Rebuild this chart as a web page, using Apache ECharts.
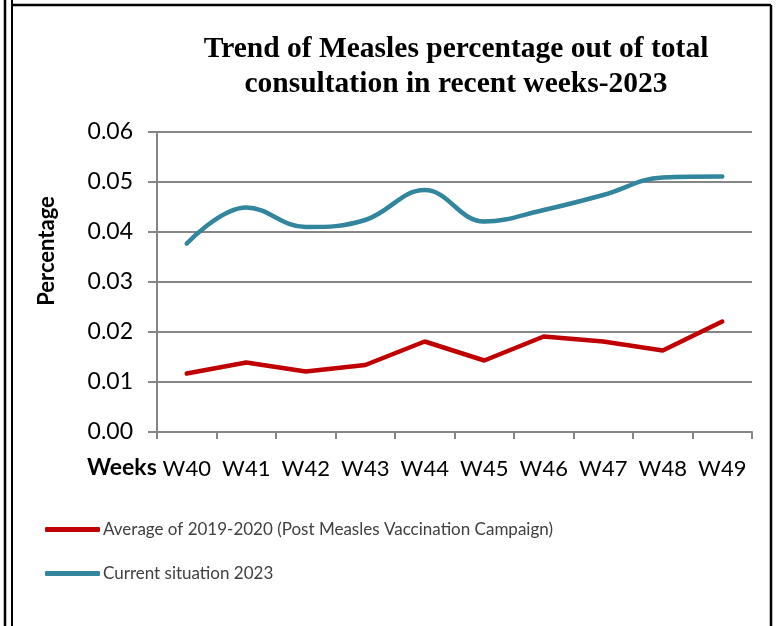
<!DOCTYPE html>
<html>
<head>
<meta charset="utf-8">
<script src="https://cdn.jsdelivr.net/npm/echarts@6/dist/echarts.min.js"></script>
<style>
  html, body { margin: 0; padding: 0; background: #fff; }
  #main { width: 776px; height: 626px; }
</style>
</head>
<body>
<div id="main"></div>
<script>
var weeks = ['W40', 'W41', 'W42', 'W43', 'W44', 'W45', 'W46', 'W47', 'W48', 'W49'];
var avg2019 = [0.0117, 0.0139, 0.0121, 0.0134, 0.0181, 0.0143, 0.0191, 0.0181, 0.0163, 0.0221];
var current2023 = [0.0377, 0.0449, 0.0410, 0.0424, 0.0484, 0.0421, 0.0444, 0.0474, 0.0509, 0.0511];
var yTicks = [0, 0.01, 0.02, 0.03, 0.04, 0.05, 0.06];

var myChart = echarts.init(document.getElementById('main'));

var gridColor = '#868686';

var option = {
    backgroundColor: '#fff',
    animation: false,
    title: {
        text: 'Trend of Measles percentage out of total\nconsultation in recent weeks-2023',
        left: 451,
        top: 27,
        textAlign: 'center',
        textStyle: {
            fontFamily: 'Liberation Serif',
            fontWeight: 'bold',
            fontSize: 29.5,
            lineHeight: 35,
            color: '#000'
        }
    },
    grid: {
        left: 157,
        right: 24,
        top: 132,
        bottom: 194
    },
    legend: {
        orient: 'vertical',
        left: 45,
        top: 521,
        padding: 0,
        itemWidth: 55,
        itemHeight: 5,
        itemGap: 27,
        icon: 'roundRect',
        textStyle: {
            fontFamily: 'Lato',
            fontSize: 17,
            color: '#404040',
            padding: [0, 0, 0, -2]
        }
    },
    xAxis: {
        type: 'category',
        data: weeks,
        boundaryGap: true,
        axisLine: { lineStyle: { color: gridColor, width: 2 } },
        axisTick: { show: true, length: 7, interval: 0, lineStyle: { color: gridColor, width: 2 } },
        axisLabel: {
            interval: 0,
            margin: 26,
            fontFamily: 'Lato',
            fontSize: 22,
            color: '#000'
        }
    },
    yAxis: {
        type: 'value',
        min: yTicks[0],
        max: yTicks[yTicks.length - 1],
        interval: 0.01,
        axisLine: { show: true, lineStyle: { color: gridColor, width: 2 } },
        axisTick: { show: true, length: 9, lineStyle: { color: gridColor, width: 2 } },
        splitLine: { lineStyle: { color: gridColor, width: 2 } },
        axisLabel: {
            margin: 24,
            fontFamily: 'Lato',
            fontSize: 23,
            color: '#000',
            formatter: function (v) { return v.toFixed(2); }
        }
    },
    graphic: [
        {
            type: 'text',
            x: 47,
            y: 251,
            rotation: Math.PI / 2,
            style: {
                text: 'Percentage',
                font: 'bold 22px Lato',
                fill: '#000',
                align: 'center',
                verticalAlign: 'middle'
            }
        },
        {
            type: 'text',
            x: 87,
            y: 468,
            style: {
                text: 'Weeks',
                font: 'bold 23px Lato',
                fill: '#000',
                verticalAlign: 'middle'
            }
        },
        { type: 'line', shape: { x1: 5, y1: 0, x2: 5, y2: 626 }, style: { stroke: '#000', lineWidth: 2.5 } },
        { type: 'line', shape: { x1: 12, y1: 0, x2: 12, y2: 626 }, style: { stroke: '#000', lineWidth: 2 } },
        { type: 'line', shape: { x1: 12, y1: 5, x2: 771, y2: 5 }, style: { stroke: '#000', lineWidth: 2.5 } },
        { type: 'line', shape: { x1: 771, y1: 5, x2: 771, y2: 626 }, style: { stroke: '#000', lineWidth: 2.5 } }
    ],
    series: [
        {
            name: 'Average of 2019-2020 (Post Measles Vaccination Campaign)',
            type: 'line',
            data: avg2019,
            showSymbol: false,
            symbol: 'none',
            color: '#C00000',
            lineStyle: { width: 4.5, color: '#C00000', cap: 'round' }
        },
        {
            name: 'Current situation 2023',
            type: 'line',
            data: current2023,
            smooth: 0.4,
            showSymbol: false,
            symbol: 'none',
            color: '#31859C',
            lineStyle: { width: 4.5, color: '#31859C', cap: 'round' }
        }
    ]
};

myChart.setOption(option);
</script>
</body>
</html>
